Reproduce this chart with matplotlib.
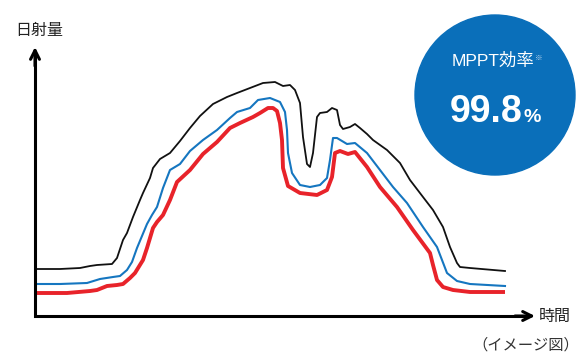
import matplotlib
matplotlib.use("Agg")
import matplotlib.pyplot as plt
from matplotlib.patches import Circle

plt.rcParams['font.family'] = ['Noto Sans CJK JP', 'DejaVu Sans']

# irradiance curves (arbitrary units), time on x
t_black = [1, 25, 45, 55, 62, 77, 82, 88, 92, 98, 105, 108, 115, 118, 125, 135, 145, 155, 165, 178,
           192, 202, 215, 228, 240, 248, 255, 260, 265, 268, 272, 275, 278, 282, 285, 292, 297, 302,
           305, 308, 315, 320, 325, 332, 338, 352, 365, 375, 388, 398, 408, 415, 422, 425, 435, 470]
sun_black = [47, 47, 48, 50, 51, 52, 58, 76, 83, 99, 116, 123, 138, 148, 157, 163, 175, 188, 200, 212,
             219, 223, 228, 233, 234, 230, 231, 226, 213, 179, 152, 149, 163, 199, 203, 204, 208, 206,
             191, 187, 189, 192, 188, 182, 176, 166, 153, 136, 119, 106, 89, 69, 53, 49, 48, 45]

t_blue = [1, 25, 52, 65, 78, 85, 92, 97, 102, 107, 112, 117, 122, 128, 135, 145, 155, 168, 182, 195,
          202, 215, 223, 235, 245, 250, 252, 253, 257, 265, 275, 285, 292, 295, 298, 302, 312, 320,
          332, 345, 358, 372, 388, 402, 407, 412, 422, 435, 470]
sun_blue = [32, 32, 33, 37, 39, 40, 46, 54, 68, 80, 92, 101, 109, 128, 146, 152, 165, 176, 186, 198,
            204, 208, 216, 218, 214, 204, 186, 163, 143, 131, 129, 131, 138, 156, 178, 178, 172, 173,
            163, 146, 129, 113, 89, 69, 56, 43, 35, 32, 30]

t_red = [1, 32, 55, 62, 72, 82, 88, 95, 100, 108, 112, 118, 122, 128, 135, 142, 155, 168, 182, 195,
         205, 218, 225, 233, 238, 242, 245, 247, 248, 253, 265, 282, 292, 297, 300, 305, 313, 320,
         332, 345, 362, 378, 395, 398, 402, 408, 418, 435, 470]
sun_red = [23, 23, 25, 26, 30, 31, 32, 38, 43, 56, 68, 88, 94, 101, 116, 134, 146, 162, 174, 188,
           193, 199, 203, 208, 208, 205, 193, 176, 148, 130, 123, 121, 126, 139, 163, 165, 162, 164,
           149, 129, 109, 86, 63, 51, 36, 29, 26, 24, 24]

y_label = "日射量"
x_label = "時間"
note = "（イメージ図）"
badge_title = "MPPT効率"
badge_value = "99.8"

fig = plt.figure(figsize=(5.79, 3.56), dpi=100)
ax = fig.add_axes([0, 0, 1, 1])
ax.set_xlim(-35, 544)
ax.set_ylim(-40, 316)
ax.axis('off')

# curves
ax.plot(t_black, sun_black, color='#111111', lw=1.3, solid_joinstyle='round')
ax.plot(t_blue, sun_blue, color='#1576c0', lw=1.5, solid_joinstyle='round')
ax.plot(t_red, sun_red, color='#e8232a', lw=2.8, solid_joinstyle='round', solid_capstyle='butt')

# axes with arrows
ax.plot([0, 0, 495], [265, 0, 0], color='black', lw=2.2, solid_joinstyle='miter',
        solid_capstyle='butt')
arrow = dict(arrowstyle='->', lw=2.2, color='black', mutation_scale=16,
             shrinkA=0, shrinkB=0)
ax.annotate('', xy=(0, 269), xytext=(0, 250), arrowprops=arrow)
ax.annotate('', xy=(500, 0), xytext=(480, 0), arrowprops=arrow)

ax.text(4, 286, y_label, fontsize=11.5, color='#222222', ha='center', va='center')
ax.text(504, 0, x_label, fontsize=11.5, color='#222222', ha='left', va='center')
ax.text(544, -29, note, fontsize=11, color='#333333', ha='right', va='center')

# badge
ax.add_patch(Circle((460, 221), 80, color='#0a6fba', zorder=3))
title = ax.text(458, 255, badge_title, fontsize=12.5, color='white', ha='center', va='center',
                family=['Liberation Sans', 'Noto Sans CJK JP'], zorder=4)
value = ax.text(415, 194, badge_value, fontsize=27, fontweight='bold', color='white',
                ha='left', va='baseline', family='Liberation Sans', zorder=4)

fig.canvas.draw()
inv = ax.transData.inverted()
r = fig.canvas.get_renderer()
tb = title.get_window_extent(r)
vb = value.get_window_extent(r)
tx, ty = inv.transform((tb.x1, tb.y1))
vx, _ = inv.transform((vb.x1, vb.y0))
ax.text(tx + 1, ty - 1, "※", fontsize=5.5, color='#cfe2f3', ha='left', va='top', zorder=4)
ax.text(vx + 1, 194, "%", fontsize=14, fontweight='bold', color='white',
        ha='left', va='baseline', family='Liberation Sans', zorder=4)

fig.savefig('out.png', dpi=100)
